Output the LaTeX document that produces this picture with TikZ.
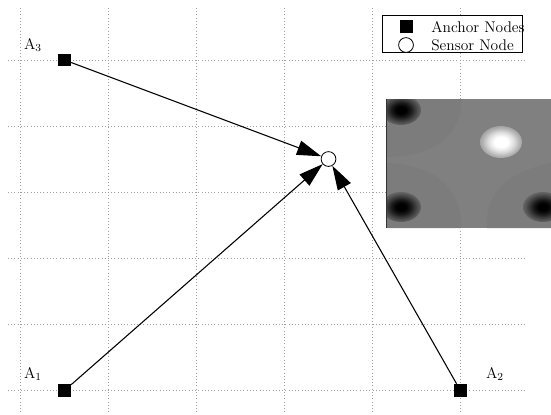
\documentclass[tikz,border=0pt]{standalone}
\usetikzlibrary{arrows.meta}
% colours of the field map
\definecolor{hmlight}{gray}{0.50}
\definecolor{hmdark}{gray}{0.485}
\pgfdeclareradialshading{darkblob}{\pgfpoint{0bp}{0bp}}{%
  color(0bp)=(black); color(6bp)=(black); color(12bp)=(black!80!hmdark);
  color(18bp)=(black!50!hmdark); color(24bp)=(black!22!hmdark);
  color(30bp)=(black!6!hmdark); color(36bp)=(hmdark); color(50bp)=(hmdark)}
\pgfdeclareradialshading{lightblob}{\pgfpoint{0bp}{0bp}}{%
  color(0bp)=(white); color(8bp)=(white); color(15bp)=(white!75!hmlight);
  color(22bp)=(white!40!hmlight); color(29bp)=(white!12!hmlight);
  color(36bp)=(hmlight); color(50bp)=(hmlight)}
\begin{document}
\begin{tikzpicture}[x=0.744pt,y=-0.744pt,
  font=\fontsize{11.5}{14}\selectfont,
  gridline/.style={gray!75, dotted, line width=0.4pt},
  anchornode/.style={rectangle, fill=black, minimum size=9.6pt, inner sep=0pt},
  sensornode/.style={circle, draw=black, fill=white, minimum size=11pt, inner sep=0pt, line width=0.6pt},
  link/.style={-{Triangle[length=18pt,width=11pt]}, line width=0.8pt},
  tag/.style={inner sep=0pt}]
\useasboundingbox (0,0) rectangle (551,414);

% dotted grid
\foreach \i in {0,...,5}
  \draw[gridline] ({20.4+88*\i},8) -- ({20.4+88*\i},414);
\foreach \j in {0,...,5}
  \draw[gridline] (8,{60+66.1*\j}) -- (526,{60+66.1*\j});

% field map
\begin{scope}
  \clip (386,99) rectangle (551,228);
  \fill[hmlight] (386,99) rectangle (551,228);
  \fill[hmdark] (386,99) -- (462,99) .. controls (460,140) and (430,156) .. (386,157) -- cycle;
  \fill[hmdark] (386,163) .. controls (430,164) and (462,185) .. (461,228) -- (386,228) -- cycle;
  \fill[hmdark] (487,228) .. controls (485,190) and (510,172) .. (551,163) -- (551,228) -- cycle;
  \shade[shading=darkblob] (401,110) ellipse [x radius=20, y radius=15];
  \shade[shading=darkblob] (401,207) ellipse [x radius=20, y radius=15];
  \shade[shading=darkblob] (543,207) ellipse [x radius=20, y radius=15];
  \shade[shading=lightblob] (501,142) ellipse [x radius=21, y radius=16];
\end{scope}
\draw[gray!40!black, line width=0.5pt] (386.3,99) -- (386.3,228);

% legend
\node[draw=black, fill=white, line width=0.6pt, minimum width=104pt, minimum height=28pt, inner sep=0pt] (legend) at (452,34) {};
\node[anchornode] (lsq) at (406.5,26.5) {};
\node[sensornode] (lci) at (406,45) {};
\node[tag, anchor=west] (ltxa) at (431,27) {Anchor Nodes};
\node[tag, anchor=west] (ltxs) at (431,45) {Sensor Node};

% anchors and sensor
\node[anchornode] (a1) at (64.5,390.5) {};
\node[anchornode] (a2) at (460.4,390.5) {};
\node[anchornode] (a3) at (64.5,60) {};
\node[sensornode] (s) at (328.5,159) {};

\node[tag] (l1) at (33,374) {A$_1$};
\node[tag] (l2) at (495,374) {A$_2$};
\node[tag] (l3) at (33,45) {A$_3$};

\draw[link] (a3) -- (s);
\draw[link] (a1) -- (s);
\draw[link] (a2) -- (s);
\end{tikzpicture}
\end{document}
